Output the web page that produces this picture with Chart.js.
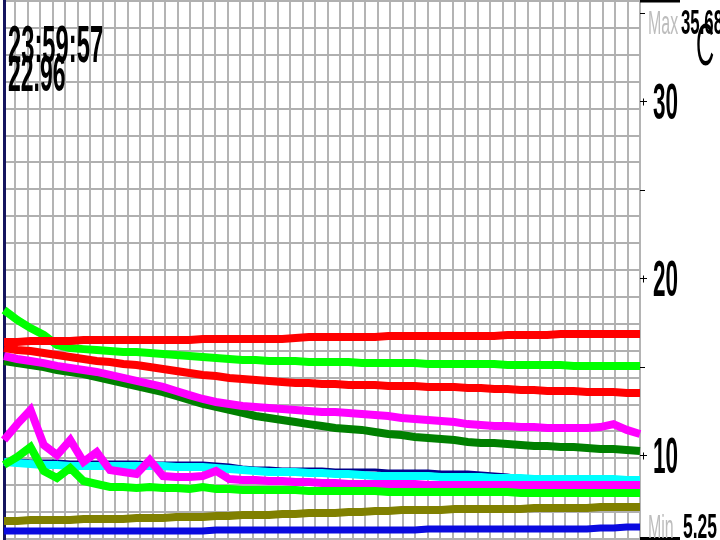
<!DOCTYPE html>
<html>
<head>
<meta charset="utf-8">
<script src="https://cdn.jsdelivr.net/npm/chart.js@4.4.1/dist/chart.umd.min.js"></script>
<style>
  body { margin: 0; background: #fff; }
  #wrap { width: 720px; height: 540px; }
</style>
</head>
<body>
<div id="wrap"><canvas id="chart"></canvas></div>
<script>
// 24h temperature log, one reading every 30 min
const times = ['00:00','00:30','01:00','01:30','02:00','02:30','03:00','03:30','04:00','04:30',
  '05:00','05:30','06:00','06:30','07:00','07:30','08:00','08:30','09:00','09:30',
  '10:00','10:30','11:00','11:30','12:00','12:30','13:00','13:30','14:00','14:30',
  '15:00','15:30','16:00','16:30','17:00','17:30','18:00','18:30','19:00','19:30',
  '20:00','20:30','21:00','21:30','22:00','22:30','23:00','23:30','24:00'];

const redTop = [16.39,16.39,16.45,16.45,16.45,16.45,16.51,16.51,16.51,16.51,
  16.51,16.51,16.51,16.51,16.51,16.56,16.56,16.56,16.56,16.56,
  16.56,16.56,16.62,16.68,16.68,16.68,16.68,16.68,16.68,16.73,
  16.73,16.73,16.73,16.73,16.73,16.73,16.73,16.73,16.79,16.79,
  16.79,16.79,16.85,16.85,16.85,16.85,16.85,16.85,16.85];
const limeTop = [18.20,17.64,17.18,16.79,16.22,16.05,15.99,15.94,15.88,15.83,
  15.83,15.77,15.71,15.66,15.60,15.54,15.49,15.43,15.37,15.37,
  15.32,15.32,15.32,15.26,15.26,15.26,15.26,15.20,15.20,15.20,
  15.20,15.20,15.15,15.15,15.15,15.15,15.15,15.15,15.09,15.09,
  15.09,15.09,15.09,15.04,15.04,15.04,15.04,15.04,15.04];
const redMid = [16.05,15.94,15.88,15.77,15.66,15.54,15.43,15.32,15.26,15.15,
  15.09,14.98,14.87,14.75,14.64,14.53,14.47,14.36,14.30,14.24,
  14.19,14.13,14.07,14.07,14.02,14.02,13.96,13.96,13.96,13.90,
  13.90,13.90,13.85,13.85,13.85,13.79,13.79,13.73,13.73,13.68,
  13.68,13.62,13.62,13.62,13.56,13.56,13.56,13.51,13.51];
const magentaTop = [15.60,15.43,15.32,15.20,15.04,14.92,14.81,14.70,14.53,14.36,
  14.19,14.02,13.85,13.62,13.39,13.17,13.00,12.89,12.77,12.72,
  12.66,12.60,12.55,12.49,12.43,12.43,12.38,12.32,12.26,12.21,
  12.09,12.04,11.98,11.92,11.87,11.75,11.70,11.64,11.64,11.58,
  11.58,11.53,11.53,11.53,11.53,11.58,11.75,11.42,11.19];
const darkGreen = [15.32,15.20,15.09,14.98,14.81,14.70,14.58,14.41,14.24,14.07,
  13.90,13.73,13.56,13.34,13.11,12.89,12.72,12.55,12.38,12.21,
  12.09,11.98,11.87,11.75,11.64,11.53,11.47,11.42,11.30,11.19,
  11.13,11.02,10.96,10.91,10.85,10.74,10.68,10.68,10.62,10.57,
  10.51,10.51,10.45,10.45,10.40,10.34,10.34,10.28,10.23];
const magentaLow = [10.85,11.75,12.55,10.57,10.00,10.85,9.61,10.17,9.15,9.04,
  8.93,9.72,8.81,8.76,8.76,8.81,9.10,8.64,8.59,8.59,
  8.53,8.53,8.47,8.47,8.42,8.42,8.36,8.36,8.36,8.36,
  8.36,8.36,8.30,8.30,8.30,8.30,8.30,8.30,8.30,8.30,
  8.30,8.30,8.30,8.30,8.30,8.30,8.30,8.30,8.30];
const limeLow = [9.44,9.89,10.45,9.10,8.70,9.27,8.53,8.36,8.19,8.19,
  8.13,8.19,8.13,8.13,8.08,8.19,8.08,8.08,8.02,8.02,
  8.02,8.02,8.02,7.96,7.96,7.96,7.96,7.96,7.96,7.91,
  7.91,7.91,7.91,7.91,7.91,7.91,7.91,7.91,7.91,7.85,
  7.85,7.85,7.85,7.85,7.85,7.85,7.85,7.85,7.85];
const cyan = [9.61,9.55,9.49,9.44,9.44,9.38,9.38,9.38,9.38,9.38,
  9.38,9.38,9.38,9.32,9.32,9.32,9.27,9.21,9.15,9.10,
  9.04,9.04,9.04,8.98,8.98,8.93,8.93,8.87,8.81,8.81,
  8.81,8.81,8.81,8.76,8.76,8.76,8.76,8.70,8.70,8.70,
  8.64,8.64,8.64,8.64,8.64,8.64,8.64,8.59,8.59];
const navy = [9.72,9.72,9.66,9.66,9.66,9.61,9.61,9.61,9.61,9.61,
  9.61,9.55,9.55,9.55,9.55,9.55,9.49,9.44,9.32,9.27,
  9.27,9.21,9.21,9.21,9.21,9.15,9.15,9.15,9.15,9.10,
  9.10,9.10,9.10,9.04,9.04,9.04,8.98,8.93,8.87,8.76,
  8.64,8.64,8.59,8.59,8.59,8.59,8.59,8.59,8.59];
const olive = [6.27,6.27,6.32,6.32,6.32,6.32,6.38,6.38,6.38,6.38,
  6.44,6.44,6.44,6.49,6.49,6.49,6.55,6.55,6.61,6.61,
  6.61,6.66,6.66,6.72,6.72,6.72,6.78,6.78,6.83,6.83,
  6.89,6.89,6.89,6.89,6.95,6.95,6.95,6.95,6.95,6.95,
  7.00,7.00,7.00,7.00,7.00,7.06,7.06,7.06,7.06];
const blue = [5.70,5.70,5.70,5.70,5.70,5.70,5.70,5.70,5.70,5.70,
  5.70,5.70,5.70,5.70,5.70,5.70,5.76,5.76,5.76,5.76,
  5.76,5.76,5.76,5.76,5.76,5.76,5.76,5.76,5.76,5.76,
  5.76,5.76,5.82,5.82,5.82,5.82,5.82,5.82,5.82,5.82,
  5.82,5.82,5.82,5.82,5.82,5.87,5.87,5.93,5.93];

const clockText = '23:59:57';
const currentText = '22.96';
const maxValue = 35.68;
const minValue = 5.25;
const unitText = 'C';
const majorTicks = [10, 20, 30];
const minorTicks = [15, 25, 35];

// vertical grid: 12.5px cells counted back from the right edge
const gridCols = 50.88;
const gridRows = 20;

function stretchText(ctx, text, x, y, size, sx, color, weight) {
  ctx.save();
  ctx.font = weight + ' ' + size + 'px "Liberation Sans", Arial, sans-serif';
  ctx.fillStyle = color;
  ctx.textBaseline = 'alphabetic';
  ctx.textAlign = 'left';
  ctx.translate(x, y);
  ctx.scale(sx, 1);
  ctx.fillText(text, 0, 0);
  ctx.restore();
}

const labelsPlugin = {
  id: 'labels',
  afterDraw(chart) {
    const ctx = chart.ctx;
    const ys = chart.scales.y;
    const right = chart.chartArea.right;
    ctx.save();
    ctx.strokeStyle = '#000';
    ctx.lineWidth = 1;
    majorTicks.forEach(v => {
      const py = Math.round(ys.getPixelForValue(v)) + 0.5;
      ctx.beginPath();
      ctx.moveTo(right, py);
      ctx.lineTo(right + 7, py);
      ctx.moveTo(right + 3.5, py - 3);
      ctx.lineTo(right + 3.5, py + 4);
      ctx.stroke();
      stretchText(ctx, String(v), right + 13, py + 17, 50, 0.45, '#000', 'bold');
    });
    minorTicks.forEach(v => {
      const py = Math.round(ys.getPixelForValue(v)) + 0.5;
      ctx.beginPath();
      ctx.moveTo(right, py);
      ctx.lineTo(right + 5, py);
      ctx.stroke();
    });

    // max / min markers
    const maxY = ys.getPixelForValue(maxValue);
    const minY = ys.getPixelForValue(minValue);
    ctx.fillStyle = '#000';
    ctx.fillRect(right, maxY - 1.5, 40, 3);
    ctx.fillRect(right, minY - 2, 40, 3);
    stretchText(ctx, 'Max', right + 8, maxY + 33, 34, 0.47, '#bdbdbd', 'normal');
    stretchText(ctx, maxValue.toFixed(2), right + 41, maxY + 33, 35, 0.48, '#000', 'bold');
    stretchText(ctx, unitText, right + 56, maxY + 64, 60, 0.42, '#000', 'normal');
    stretchText(ctx, 'Min', right + 8, minY - 1, 34, 0.47, '#bdbdbd', 'normal');
    stretchText(ctx, minValue.toFixed(2), right + 43, minY - 1, 35, 0.5, '#000', 'bold');

    // readout top left
    stretchText(ctx, clockText, 8, 62, 52, 0.457, '#000', 'bold');
    stretchText(ctx, currentText, 8, 91, 50, 0.46, '#000', 'bold');
    ctx.restore();
  }
};

function line(data, color, width) {
  return {
    data: data,
    borderColor: color,
    borderWidth: width,
    pointRadius: 0,
    fill: false,
    tension: 0,
    xAxisID: 'x',
    yAxisID: 'y'
  };
}

new Chart(document.getElementById('chart'), {
  type: 'line',
  data: {
    labels: times,
    // first dataset is painted last (on top)
    datasets: [
      line(limeLow, '#00ff00', 8),
      line(magentaLow, '#ff00ff', 8),
      line(cyan, '#00ffff', 8),
      line(navy, '#00008b', 3),
      line(redTop, '#ff0000', 8),
      line(limeTop, '#00ff00', 8),
      line(redMid, '#ff0000', 8),
      line(magentaTop, '#ff00ff', 8),
      line(darkGreen, '#008000', 8),
      line(olive, '#808000', 8),
      line(blue, '#0a0ae0', 7)
    ]
  },
  options: {
    responsive: true,
    maintainAspectRatio: false,
    animation: false,
    layout: { padding: { left: 4, right: 80, top: 1, bottom: 1 } },
    plugins: { legend: { display: false }, tooltip: { enabled: false } },
    scales: {
      x: { type: 'category', display: false },
      y: { type: 'linear', display: false, min: minValue, max: maxValue },
      xg: {
        type: 'linear',
        position: 'bottom',
        min: 0,
        max: gridCols,
        afterBuildTicks: axis => {
          const t = [];
          for (let k = 0; k <= 50; k++) t.push({ value: gridCols - k });
          axis.ticks = t;
        },
        ticks: { display: false },
        border: { display: false },
        grid: { color: '#b4b4b4', lineWidth: 2, drawTicks: false }
      },
      yg: {
        type: 'linear',
        position: 'left',
        min: minValue,
        max: maxValue,
        afterBuildTicks: axis => {
          const t = [];
          for (let k = 0; k <= gridRows; k++) t.push({ value: minValue + k * (maxValue - minValue) / gridRows });
          axis.ticks = t;
        },
        ticks: { display: false },
        border: { display: true, color: '#14145e', width: 3 },
        grid: { color: '#b0b0b0', lineWidth: 2, drawTicks: false }
      }
    }
  },
  plugins: [labelsPlugin]
});
</script>
</body>
</html>
